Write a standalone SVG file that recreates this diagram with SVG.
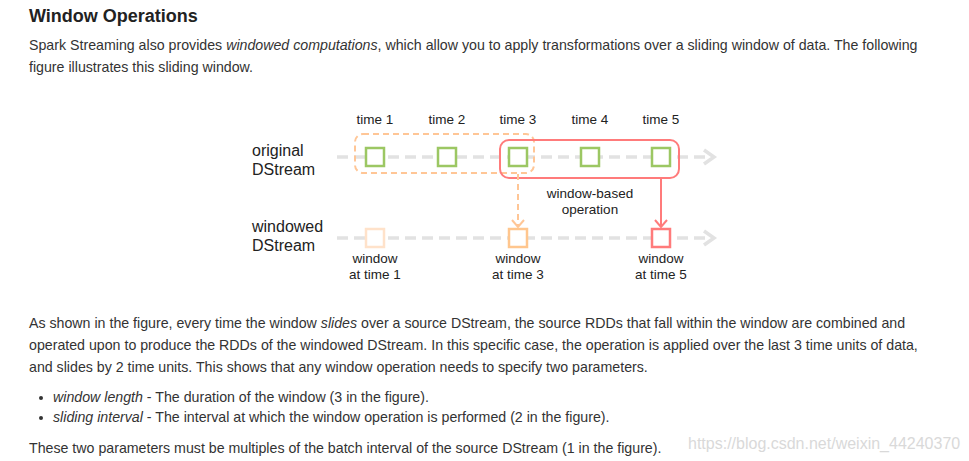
<svg xmlns="http://www.w3.org/2000/svg" width="969" height="461" viewBox="0 0 969 461">
<style>
.t{font-family:"Liberation Sans",Arial,Helvetica,sans-serif;fill:#333;font-size:14.2px}
.h{font-family:"Liberation Sans",Arial,Helvetica,sans-serif;fill:#222;font-size:18px;font-weight:bold}
.i{font-style:italic}
.lbl{font-family:"Liberation Sans",Arial,Helvetica,sans-serif;fill:#222;font-size:13.5px;text-anchor:middle}
.big{font-family:"Liberation Sans",Arial,Helvetica,sans-serif;fill:#222;font-size:16px}
.stream{stroke:#e2e2e2;stroke-width:3.5;stroke-dasharray:11 6;fill:none}
.head{stroke:#e2e2e2;stroke-width:3.5;fill:none}
.g{fill:#fff;stroke:#9cc763;stroke-width:2.5}
.wm{font-family:"Liberation Sans",Arial,Helvetica,sans-serif;fill:#d9d9d9;font-size:16px}
</style>
<rect width="969" height="461" fill="#fff"/>
<g id="text-top">
<text class="h" x="29" y="22">Window Operations</text>
<text class="t" x="29" y="50">Spark Streaming also provides <tspan class="i">windowed computations</tspan>, which allow you to apply transformations over a sliding window of data. The following</text>
<text class="t" x="29" y="72">figure illustrates this sliding window.</text>
</g>
<g id="streams">
<line class="stream" x1="337" y1="157" x2="712" y2="157"/>
<polyline class="head" points="704,150 714,157 704,164"/>
<line class="stream" x1="337" y1="238" x2="712" y2="238"/>
<polyline class="head" points="704,231 714,238 704,245"/>
</g>
<g id="labels">
<text class="big" x="252" y="156">original</text>
<text class="big" x="252" y="175">DStream</text>
<text class="big" x="252" y="232">windowed</text>
<text class="big" x="252" y="251">DStream</text>
<text class="lbl" x="375" y="124">time 1</text>
<text class="lbl" x="447" y="124">time 2</text>
<text class="lbl" x="518" y="124">time 3</text>
<text class="lbl" x="590" y="124">time 4</text>
<text class="lbl" x="661" y="124">time 5</text>
</g>
<g id="window-time3">
<rect x="355" y="134" width="179" height="39" rx="8" fill="none" stroke="#ffc696" stroke-width="2" stroke-dasharray="6 4"/>
</g>
<g id="window-time5">
<rect x="500" y="140" width="179" height="38" rx="9" fill="none" stroke="#ff7b7b" stroke-width="2"/>
<text class="lbl" x="590" y="198">window-based</text>
<text class="lbl" x="590" y="214">operation</text>
</g>
<g id="rdds">
<rect class="g" x="366" y="148" width="18" height="18"/>
<rect class="g" x="438" y="148" width="18" height="18"/>
<rect class="g" x="509" y="148" width="18" height="18"/>
<rect class="g" x="581" y="148" width="18" height="18"/>
<rect class="g" x="652" y="148" width="18" height="18"/>
</g>
<g id="connectors">
<line x1="518" y1="174" x2="518" y2="226" stroke="#ffc696" stroke-width="2" stroke-dasharray="6 4"/>
<polyline points="512,220 518,227 524,220" fill="none" stroke="#ffc696" stroke-width="2"/>
<line x1="661" y1="179" x2="661" y2="227" stroke="#ff7b7b" stroke-width="2"/>
<polyline points="655,220 661,227 667,220" fill="none" stroke="#ff7b7b" stroke-width="2"/>
</g>
<g id="win1">
<rect x="366" y="229" width="18" height="18" fill="#fff" stroke="#ffe2ca" stroke-width="2.5"/>
<text class="lbl" x="375" y="263">window</text>
<text class="lbl" x="375" y="279">at time 1</text>
</g>
<g id="win3">
<rect x="509" y="229" width="18" height="18" fill="#fff" stroke="#ffc68e" stroke-width="2.5"/>
<text class="lbl" x="518" y="263">window</text>
<text class="lbl" x="518" y="279">at time 3</text>
</g>
<g id="win5">
<rect x="652" y="229" width="18" height="18" fill="#fff" stroke="#ff7b7b" stroke-width="2.5"/>
<text class="lbl" x="661" y="263">window</text>
<text class="lbl" x="661" y="279">at time 5</text>
</g>
<g id="text-bottom">
<text class="t" x="29" y="328">As shown in the figure, every time the window <tspan class="i">slides</tspan> over a source DStream, the source RDDs that fall within the window are combined and</text>
<text class="t" x="29" y="350">operated upon to produce the RDDs of the windowed DStream. In this specific case, the operation is applied over the last 3 time units of data,</text>
<text class="t" x="29" y="372">and slides by 2 time units. This shows that any window operation needs to specify two parameters.</text>
<circle cx="41" cy="398" r="2" fill="#333"/>
<text class="t" x="53" y="402"><tspan class="i">window length</tspan> - The duration of the window (3 in the figure).</text>
<circle cx="41" cy="418" r="2" fill="#333"/>
<text class="t" x="53" y="422"><tspan class="i">sliding interval</tspan> - The interval at which the window operation is performed (2 in the figure).</text>
<text class="t" x="29" y="453">These two parameters must be multiples of the batch interval of the source DStream (1 in the figure).</text>
<text class="wm" x="688" y="449">https://blog.csdn.net/weixin_44240370</text>
</g>
</svg>
